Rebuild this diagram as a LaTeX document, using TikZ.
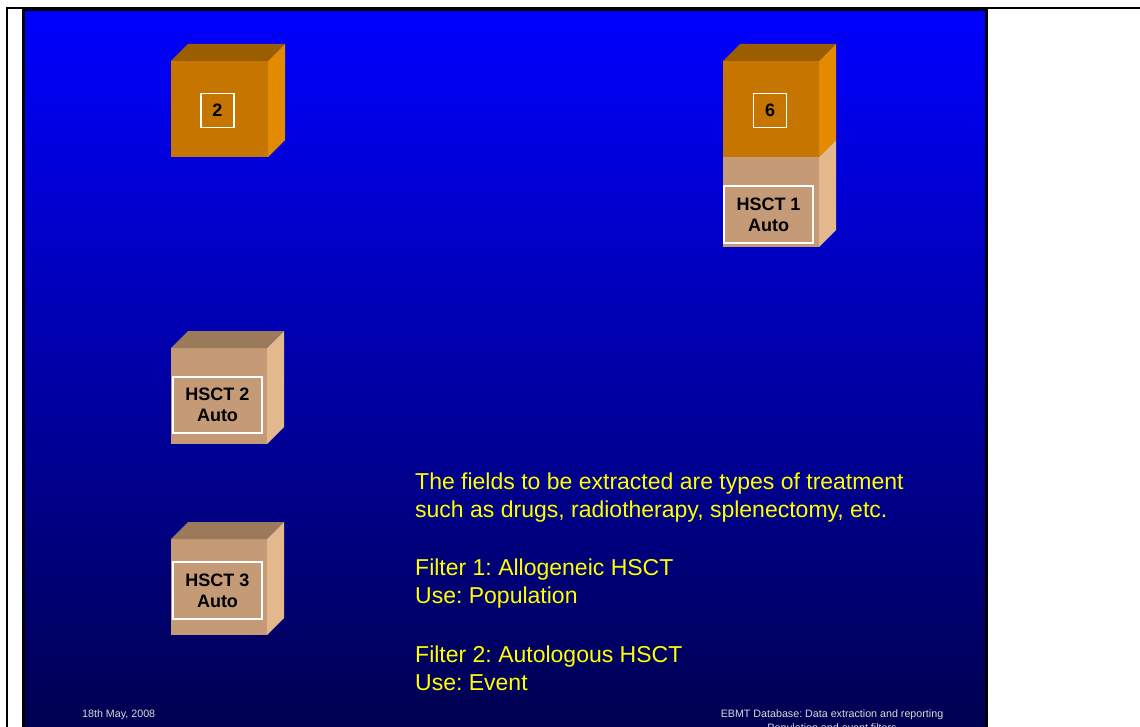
\documentclass[tikz,border=0pt]{standalone}
\usepackage{fontspec}
\setmainfont{Liberation Sans}
\frenchspacing
\begin{document}
\definecolor{bgbot}{RGB}{0,0,22}
\definecolor{orfront}{RGB}{197,117,0}
\definecolor{ortop}{RGB}{154,93,0}
\definecolor{orside}{RGB}{227,138,0}
\definecolor{befront}{RGB}{196,155,118}
\definecolor{betop}{RGB}{154,122,90}
\definecolor{beside}{RGB}{226,184,140}
\definecolor{txtyellow}{RGB}{255,255,0}
% solid block: x, y (top-left of front face), width, height, depth, front, top, side colours
\newcommand\slabcube[8]{%
  \fill[#6] (#1,#2) rectangle ++(#3,#4);
  \fill[#7] (#1,#2) -- ++(#5,-#5) -- ++(#3,0) -- ++(-#5,#5) -- cycle;
  \fill[#8] (#1+#3,#2) -- ++(#5,-#5) -- ++(0,#4) -- ++(-#5,#5) -- cycle;
}
\begin{tikzpicture}[x=1pt,y=-1pt,
  tag/.style={draw=white,line width=1.6pt,inner sep=0pt,font=\fontsize{18}{21}\selectfont\bfseries,text=black,align=center},
  body/.style={anchor=base west,inner sep=0pt,text=txtyellow,font=\fontsize{23}{28}\selectfont},
  foot/.style={inner sep=0pt,text=white!85!black,font=\fontsize{10.7}{12}\selectfont}]
\useasboundingbox (0,0) rectangle (1140,727);
\begin{scope}
\clip (0,0) rectangle (1140,727);
% page frame
\fill[white] (0,0) rectangle (1140,727);
\draw[line width=2.5pt] (7,760) -- (7,8) -- (1160,8);
% slide background
\fill[blue] (23,9.5) rectangle (986,760);
\shade[top color=blue,bottom color=bgbot] (23,11.5) rectangle (986,965);
\draw[line width=3pt] (23,780) -- (23,9.5) -- (986,9.5) -- (986,780);
% blocks
\slabcube{171}{61}{97}{96}{17}{orfront}{ortop}{orside}
\slabcube{723}{157}{96}{90}{17}{befront}{betop}{beside}
\slabcube{723}{61}{96}{96}{17}{orfront}{ortop}{orside}
\slabcube{171}{348}{96}{96}{17}{befront}{betop}{beside}
\slabcube{171}{539}{96}{96}{17}{befront}{betop}{beside}
% block labels
\node[tag,minimum width=33pt,minimum height=34pt] (n2) at (217.5,110.5) {2};
\node[tag,minimum width=33pt,minimum height=34pt] (n6) at (770,110.5) {6};
\node[tag,minimum width=89pt,minimum height=57pt] (h1) at (768.5,214.5) {HSCT 1\\Auto};
\node[tag,minimum width=89pt,minimum height=56pt] (h2) at (217.5,405) {HSCT 2\\Auto};
\node[tag,minimum width=89pt,minimum height=57pt] (h3) at (217.5,590.5) {HSCT 3\\Auto};
% notes
\node[body] (l1) at (415,489) {The fields to be extracted are types of treatment};
\node[body] (l2) at (415,517) {such as drugs, radiotherapy, splenectomy, etc.};
\node[body] (l3) at (415,575) {Filter 1: Allogeneic HSCT};
\node[body] (l4) at (415,603) {Use: Population};
\node[body] (l5) at (415,662) {Filter 2: Autologous HSCT};
\node[body] (l6) at (415,690) {Use: Event};
% footer
\node[foot,anchor=base west] (date) at (82,717) {18th May, 2008};
\node[foot,anchor=base,align=center] (title) at (832,717) {EBMT Database: Data extraction and reporting};
\node[foot,anchor=base] (sub) at (832,731) {Population and event filters};
\end{scope}
\end{tikzpicture}
\end{document}
